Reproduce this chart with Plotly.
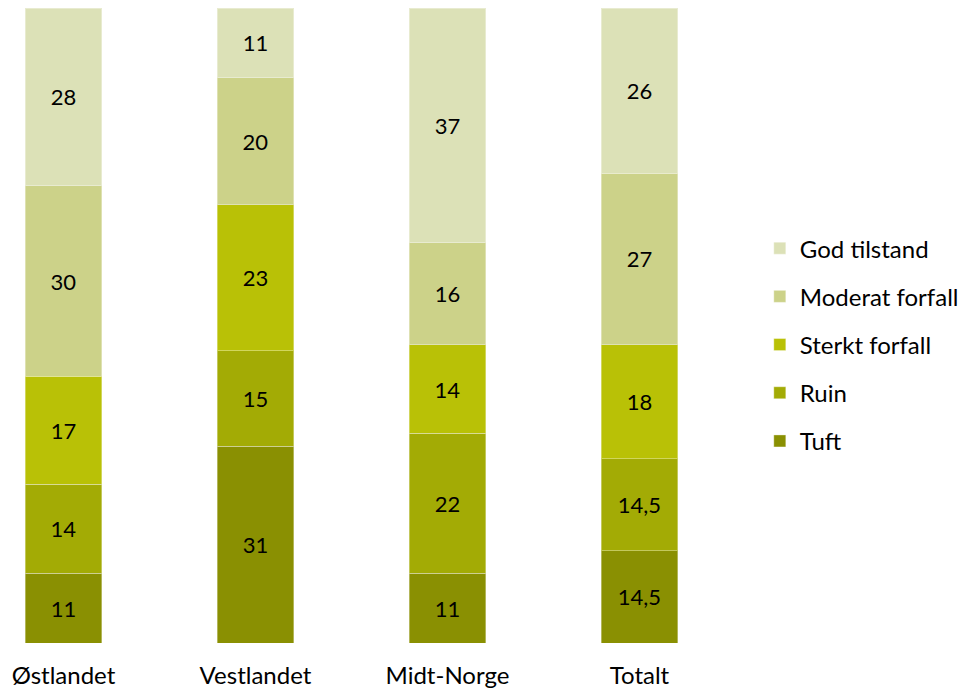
import plotly.graph_objects as go

# Data
regions = ["Østlandet", "Vestlandet", "Midt-Norge", "Totalt"]
tuft = [11, 31, 11, 14.5]
ruin = [14, 15, 22, 14.5]
sterkt = [17, 23, 14, 18]
moderat = [30, 20, 16, 27]
god = [28, 11, 37, 26]

series = [
    ("Tuft", tuft, "#8a9002"),
    ("Ruin", ruin, "#a3ab05"),
    ("Sterkt forfall", sterkt, "#b9c106"),
    ("Moderat forfall", moderat, "#ccd289"),
    ("God tilstand", god, "#dce1b7"),
]

FONT = "Lato, 'Noto Sans', sans-serif"

fig = go.Figure()
xs = list(range(len(regions)))
for rank, (name, vals, col) in enumerate(series):
    labels = [("%g" % v).replace(".", ",") for v in vals]
    fig.add_trace(go.Bar(x=xs, y=vals, name=name, text=labels,
                         textposition="inside", insidetextanchor="middle",
                         textfont=dict(color="black", size=22, family=FONT),
                         marker=dict(color=col, line=dict(color="rgba(255,255,255,0.35)", width=1)),
                         legendgroup=name, legendrank=len(series) - rank,
                         cliponaxis=False))

fig.update_layout(
    barmode="stack",
    bargap=0.6,
    width=967, height=690,
    margin=dict(l=0, r=267, t=0, b=55),
    plot_bgcolor="white", paper_bgcolor="white",
    font=dict(family=FONT, size=22, color="black"),
    showlegend=True,
    legend=dict(x=1.074, xanchor="left", y=0.47, yanchor="middle",
                traceorder="grouped", tracegroupgap=14,
                font=dict(size=24, family=FONT)),
    uniformtext=dict(minsize=22, mode="show"),
)
fig.update_xaxes(range=[-0.289, 3.357], tickvals=xs, ticktext=regions,
                 showgrid=False, showline=False, zeroline=False,
                 tickfont=dict(size=24), ticks="", ticklabelstandoff=16)
fig.update_yaxes(range=[0, 100], visible=False)

fig.write_html("out.html")
